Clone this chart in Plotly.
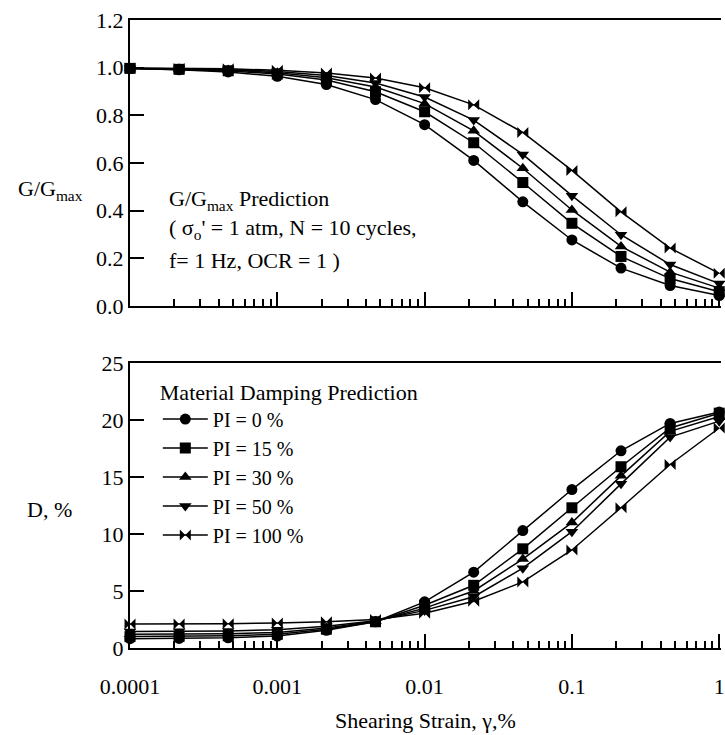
import plotly.graph_objects as go

# ---------------- data ----------------
strain = [1e-4, 2.154e-4, 4.642e-4, 1e-3, 2.154e-3, 4.642e-3, 1e-2,
          2.154e-2, 4.642e-2, 0.1, 0.2154, 0.4642, 1.0]

pi_labels = ["PI = 0 %", "PI = 15 %", "PI = 30 %", "PI = 50 %", "PI = 100 %"]

g_pi0 = [0.996, 0.991, 0.982, 0.964, 0.929, 0.866, 0.761, 0.611, 0.437, 0.277, 0.159, 0.086, 0.044]
g_pi15 = [0.997, 0.993, 0.987, 0.973, 0.948, 0.899, 0.815, 0.685, 0.518, 0.347, 0.208, 0.115, 0.060]
g_pi30 = [0.997, 0.995, 0.990, 0.979, 0.958, 0.919, 0.849, 0.735, 0.578, 0.403, 0.250, 0.142, 0.075]
g_pi50 = [0.998, 0.996, 0.992, 0.984, 0.967, 0.936, 0.877, 0.780, 0.636, 0.463, 0.299, 0.174, 0.094]
g_pi100 = [0.999, 0.997, 0.995, 0.989, 0.978, 0.957, 0.916, 0.844, 0.728, 0.569, 0.395, 0.243, 0.137]

d_pi0 = [0.82, 0.84, 0.90, 1.05, 1.55, 2.30, 4.05, 6.65, 10.3, 13.9, 17.3, 19.7, 20.7]
d_pi15 = [1.00, 1.02, 1.07, 1.20, 1.65, 2.30, 3.75, 5.50, 8.70, 12.3, 15.9, 19.3, 20.6]
d_pi30 = [1.20, 1.22, 1.26, 1.37, 1.75, 2.35, 3.50, 5.00, 7.80, 11.0, 15.1, 19.0, 20.3]
d_pi50 = [1.45, 1.47, 1.50, 1.60, 1.90, 2.40, 3.30, 4.50, 7.00, 10.2, 14.4, 18.5, 19.9]
d_pi100 = [2.10, 2.10, 2.13, 2.20, 2.30, 2.50, 3.05, 4.10, 5.80, 8.60, 12.3, 16.1, 19.3]

x_tickvals = [1e-4, 1e-3, 1e-2, 1e-1, 1]
x_ticktext = ["0.0001", "0.001", "0.01", "0.1", "1"]

g_series = [g_pi0, g_pi15, g_pi30, g_pi50, g_pi100]
d_series = [d_pi0, d_pi15, d_pi30, d_pi50, d_pi100]
symbols = ["circle", "square", "triangle-up", "triangle-down", "bowtie"]

# ---------------- layout geometry ----------------
W_FIG, H_FIG = 725, 735
L, R, T, B = 130, 0, 20, 87
PW = W_FIG - L - R
PH = H_FIG - T - B
TOP_BOTTOM_PX = 306
BOT_TOP_PX = 363
PLOT_BOTTOM_PX = H_FIG - B


def px_x(p):
    return (p - L) / PW


def px_y(p):
    return (PLOT_BOTTOM_PX - p) / PH


FONT = "Times New Roman, Liberation Serif, serif"
FS = 22
LEG_FS = 20
MS = 11

fig = go.Figure()

for i in range(5):
    fig.add_trace(go.Scatter(
        x=strain, y=g_series[i], mode="lines+markers",
        line=dict(color="black", width=1.5),
        marker=dict(symbol=symbols[i], size=MS, color="black"),
        showlegend=False, xaxis="x", yaxis="y", cliponaxis=False,
    ))
for i in range(5):
    fig.add_trace(go.Scatter(
        x=strain, y=d_series[i], mode="lines+markers", name=pi_labels[i],
        line=dict(color="black", width=1.5),
        marker=dict(symbol=symbols[i], size=MS, color="black"),
        xaxis="x2", yaxis="y2", cliponaxis=False,
    ))

xcommon = dict(
    type="log", range=[-4, 0.0121],
    tickvals=x_tickvals, ticktext=x_ticktext,
    ticks="inside", ticklen=14, tickwidth=1.5, tickcolor="black",
    minor=dict(ticks="inside", ticklen=7, tickwidth=1.5, tickcolor="black",
               dtick="D1", showgrid=False),
    showline=True, linewidth=2, linecolor="black", mirror=True,
    showgrid=False, zeroline=False, ticklabeloverflow="allow",
    tickfont=dict(family=FONT, size=FS, color="black"),
)
ycommon = dict(
    ticks="inside", ticklen=14, tickwidth=1.5, tickcolor="black",
    showline=True, linewidth=2, linecolor="black", mirror=False,
    showgrid=False, zeroline=False,
    tickfont=dict(family=FONT, size=FS, color="black"),
)

fig.update_layout(
    width=W_FIG, height=H_FIG,
    margin=dict(l=L, r=R, t=T, b=B),
    paper_bgcolor="white", plot_bgcolor="white",
    font=dict(family=FONT, size=FS, color="black"),
    xaxis=dict(xcommon, domain=[0, 1], anchor="y", showticklabels=False),
    yaxis=dict(ycommon, domain=[px_y(TOP_BOTTOM_PX), 1], anchor="x",
               range=[0, 1.2], dtick=0.2, tickformat=".1f"),
    xaxis2=dict(xcommon, domain=[0, 1], anchor="y2", ticklabelstandoff=18),
    yaxis2=dict(ycommon, domain=[0, px_y(BOT_TOP_PX)], anchor="x2",
                range=[0, 25], dtick=5),
    legend=dict(
        x=px_x(158), y=px_y(371), xanchor="left", yanchor="top",
        bgcolor="rgba(0,0,0,0)", borderwidth=0,
        font=dict(family=FONT, size=LEG_FS, color="black"),
        title=dict(text="Material Damping Prediction",
                   font=dict(family=FONT, size=FS, color="black")),
        itemwidth=45, tracegroupgap=0,
    ),
    showlegend=True,
)

annots = [
    dict(text="G/G<sub>max</sub> Prediction", x=px_x(167), y=px_y(200)),
    dict(text="( σ<sub>o</sub>' = 1 atm, N = 10 cycles,", x=px_x(167), y=px_y(229)),
    dict(text="f= 1 Hz, OCR = 1 )", x=px_x(167), y=px_y(260)),
]
for a in annots:
    fig.add_annotation(xref="paper", yref="paper", xanchor="left", yanchor="middle",
                       showarrow=False, font=dict(family=FONT, size=FS, color="black"), **a)

fig.add_annotation(text="G/G<sub>max</sub>", xref="paper", yref="paper",
                   x=px_x(50), y=px_y(190), xanchor="center", yanchor="middle",
                   showarrow=False, font=dict(family=FONT, size=FS, color="black"))
fig.add_annotation(text="D, %", xref="paper", yref="paper",
                   x=px_x(49), y=px_y(510), xanchor="center", yanchor="middle",
                   showarrow=False, font=dict(family=FONT, size=FS, color="black"))
fig.add_annotation(text="Shearing Strain, γ,%", xref="paper", yref="paper",
                   x=px_x(428), y=px_y(720), xanchor="center", yanchor="middle",
                   showarrow=False, font=dict(family=FONT, size=FS, color="black"))

fig.write_html("out.html", config={"displayModeBar": False},
               post_script="document.body.style.margin='0';document.body.style.overflow='hidden';")
